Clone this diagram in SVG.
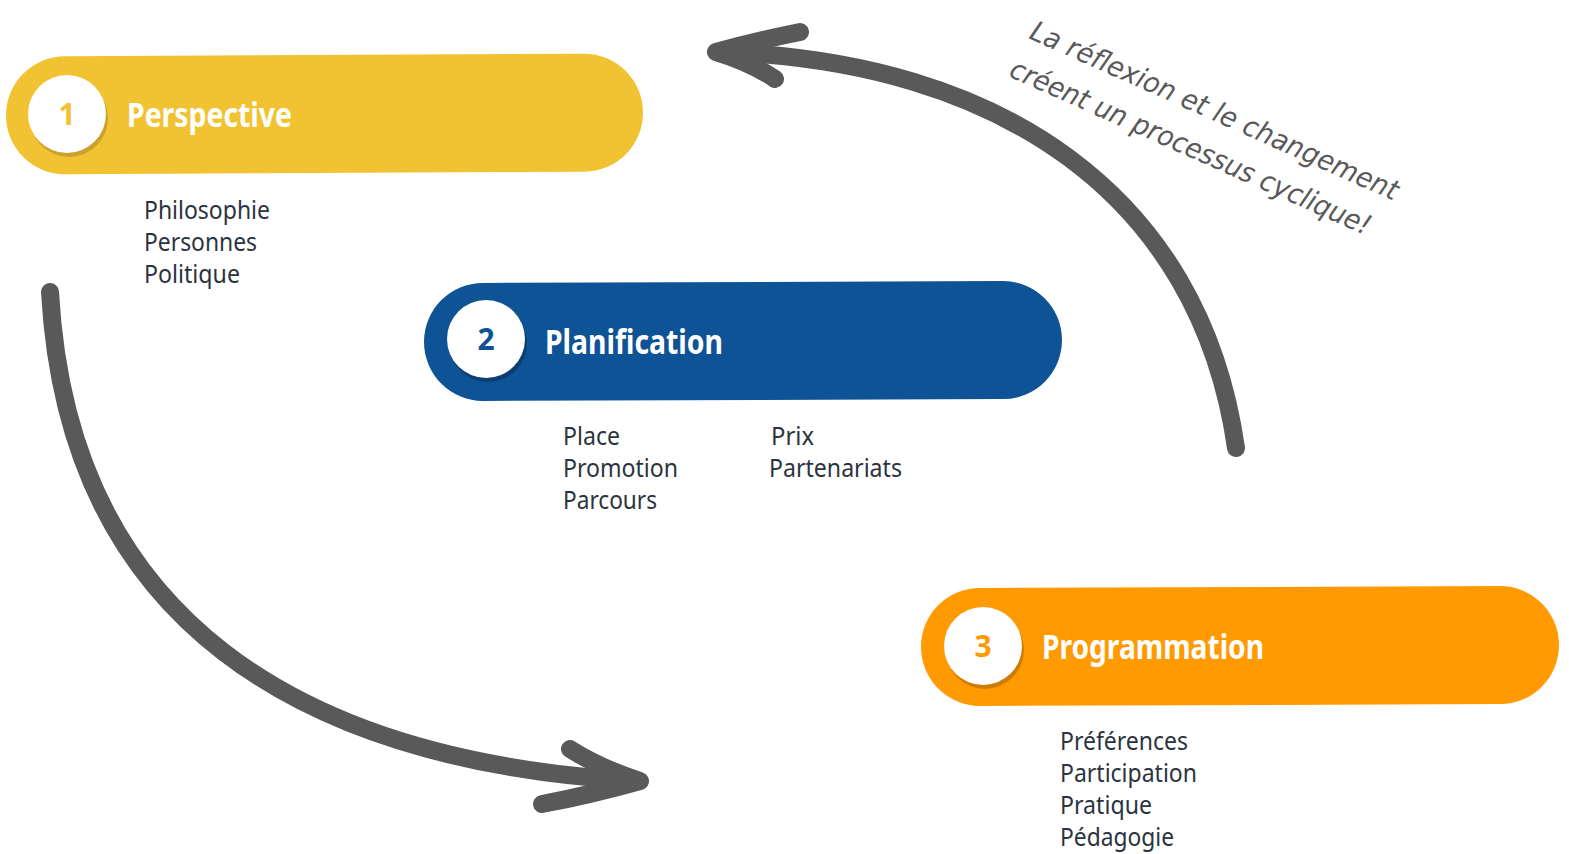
<svg xmlns="http://www.w3.org/2000/svg" width="1569" height="854" viewBox="0 0 1569 854">
<style>
.title{font-family:"Noto Sans","Liberation Sans",sans-serif;font-weight:bold;font-size:34px;fill:#ffffff}
.num{font-family:"Noto Sans","Liberation Sans",sans-serif;font-weight:bold;font-size:30px;text-anchor:middle}
.sub{font-family:"Noto Sans","Liberation Sans",sans-serif;font-size:25px;fill:#2b3340}
.arc{fill:none;stroke:#595959;stroke-width:18;stroke-linecap:round;stroke-linejoin:round}
.hand{font-family:cursive,"DejaVu Sans",sans-serif;font-style:italic;font-size:28px;fill:#595959}
</style>
<rect width="1569" height="854" fill="#ffffff"/>
<g id="connectors">
<path class="arc" d="M50,292 C68,620 300,762 638,781"/>
<path class="arc" d="M570,749 Q600,768 640,781 Q590,795 542,804"/>
<path class="arc" d="M1236,448 C1200,195 1000,60 718,52"/>
<path class="arc" d="M800,32 Q760,40 716,52 Q750,62 775,79"/>
</g>
<g id="node1">
<rect x="6" y="55" width="637" height="118" rx="59" fill="#f1c332" transform="rotate(-0.3 324 114)"/>
<circle cx="69" cy="118" r="39" fill="#c9a12c"/>
<circle cx="67" cy="114" r="39" fill="#ffffff"/>
<text class="num" x="67" y="125" fill="#f1c332">1</text>
<text class="title" x="127" y="127" textLength="165" lengthAdjust="spacingAndGlyphs">Perspective</text>
<text class="sub" x="144" y="219" textLength="126" lengthAdjust="spacingAndGlyphs">Philosophie</text>
<text class="sub" x="144" y="251" textLength="113" lengthAdjust="spacingAndGlyphs">Personnes</text>
<text class="sub" x="144" y="283" textLength="96" lengthAdjust="spacingAndGlyphs">Politique</text>
</g>
<g id="node2">
<rect x="424" y="282" width="638" height="118" rx="59" fill="#0e5395" transform="rotate(-0.2 743 341)"/>
<circle cx="488" cy="343" r="39" fill="#0a3e70"/>
<circle cx="486" cy="339" r="39" fill="#ffffff"/>
<text class="num" x="486" y="350" fill="#0e5395">2</text>
<text class="title" x="545" y="354" textLength="178" lengthAdjust="spacingAndGlyphs">Planification</text>
<text class="sub" x="563" y="445" textLength="57" lengthAdjust="spacingAndGlyphs">Place</text>
<text class="sub" x="563" y="477" textLength="115" lengthAdjust="spacingAndGlyphs">Promotion</text>
<text class="sub" x="563" y="509" textLength="94" lengthAdjust="spacingAndGlyphs">Parcours</text>
<text class="sub" x="771" y="445" textLength="43" lengthAdjust="spacingAndGlyphs">Prix</text>
<text class="sub" x="769" y="477" textLength="133" lengthAdjust="spacingAndGlyphs">Partenariats</text>
</g>
<g id="node3">
<rect x="921" y="587" width="638" height="118" rx="59" fill="#ff9a03" transform="rotate(-0.2 1240 646)"/>
<circle cx="985" cy="650" r="39" fill="#cf7d02"/>
<circle cx="983" cy="646" r="39" fill="#ffffff"/>
<text class="num" x="983" y="657" fill="#ff9a03">3</text>
<text class="title" x="1042" y="659" textLength="222" lengthAdjust="spacingAndGlyphs">Programmation</text>
<text class="sub" x="1060" y="750" textLength="128" lengthAdjust="spacingAndGlyphs">Préférences</text>
<text class="sub" x="1060" y="782" textLength="137" lengthAdjust="spacingAndGlyphs">Participation</text>
<text class="sub" x="1060" y="814" textLength="92" lengthAdjust="spacingAndGlyphs">Pratique</text>
<text class="sub" x="1060" y="846" textLength="114" lengthAdjust="spacingAndGlyphs">Pédagogie</text>
</g>
<g id="note" transform="translate(1028,38) rotate(24)">
<text class="hand" x="0" y="0" textLength="400" lengthAdjust="spacingAndGlyphs">La réflexion et le changement</text>
<text class="hand" x="-3" y="43" textLength="392" lengthAdjust="spacingAndGlyphs">créent un processus cyclique!</text>
</g>
</svg>
